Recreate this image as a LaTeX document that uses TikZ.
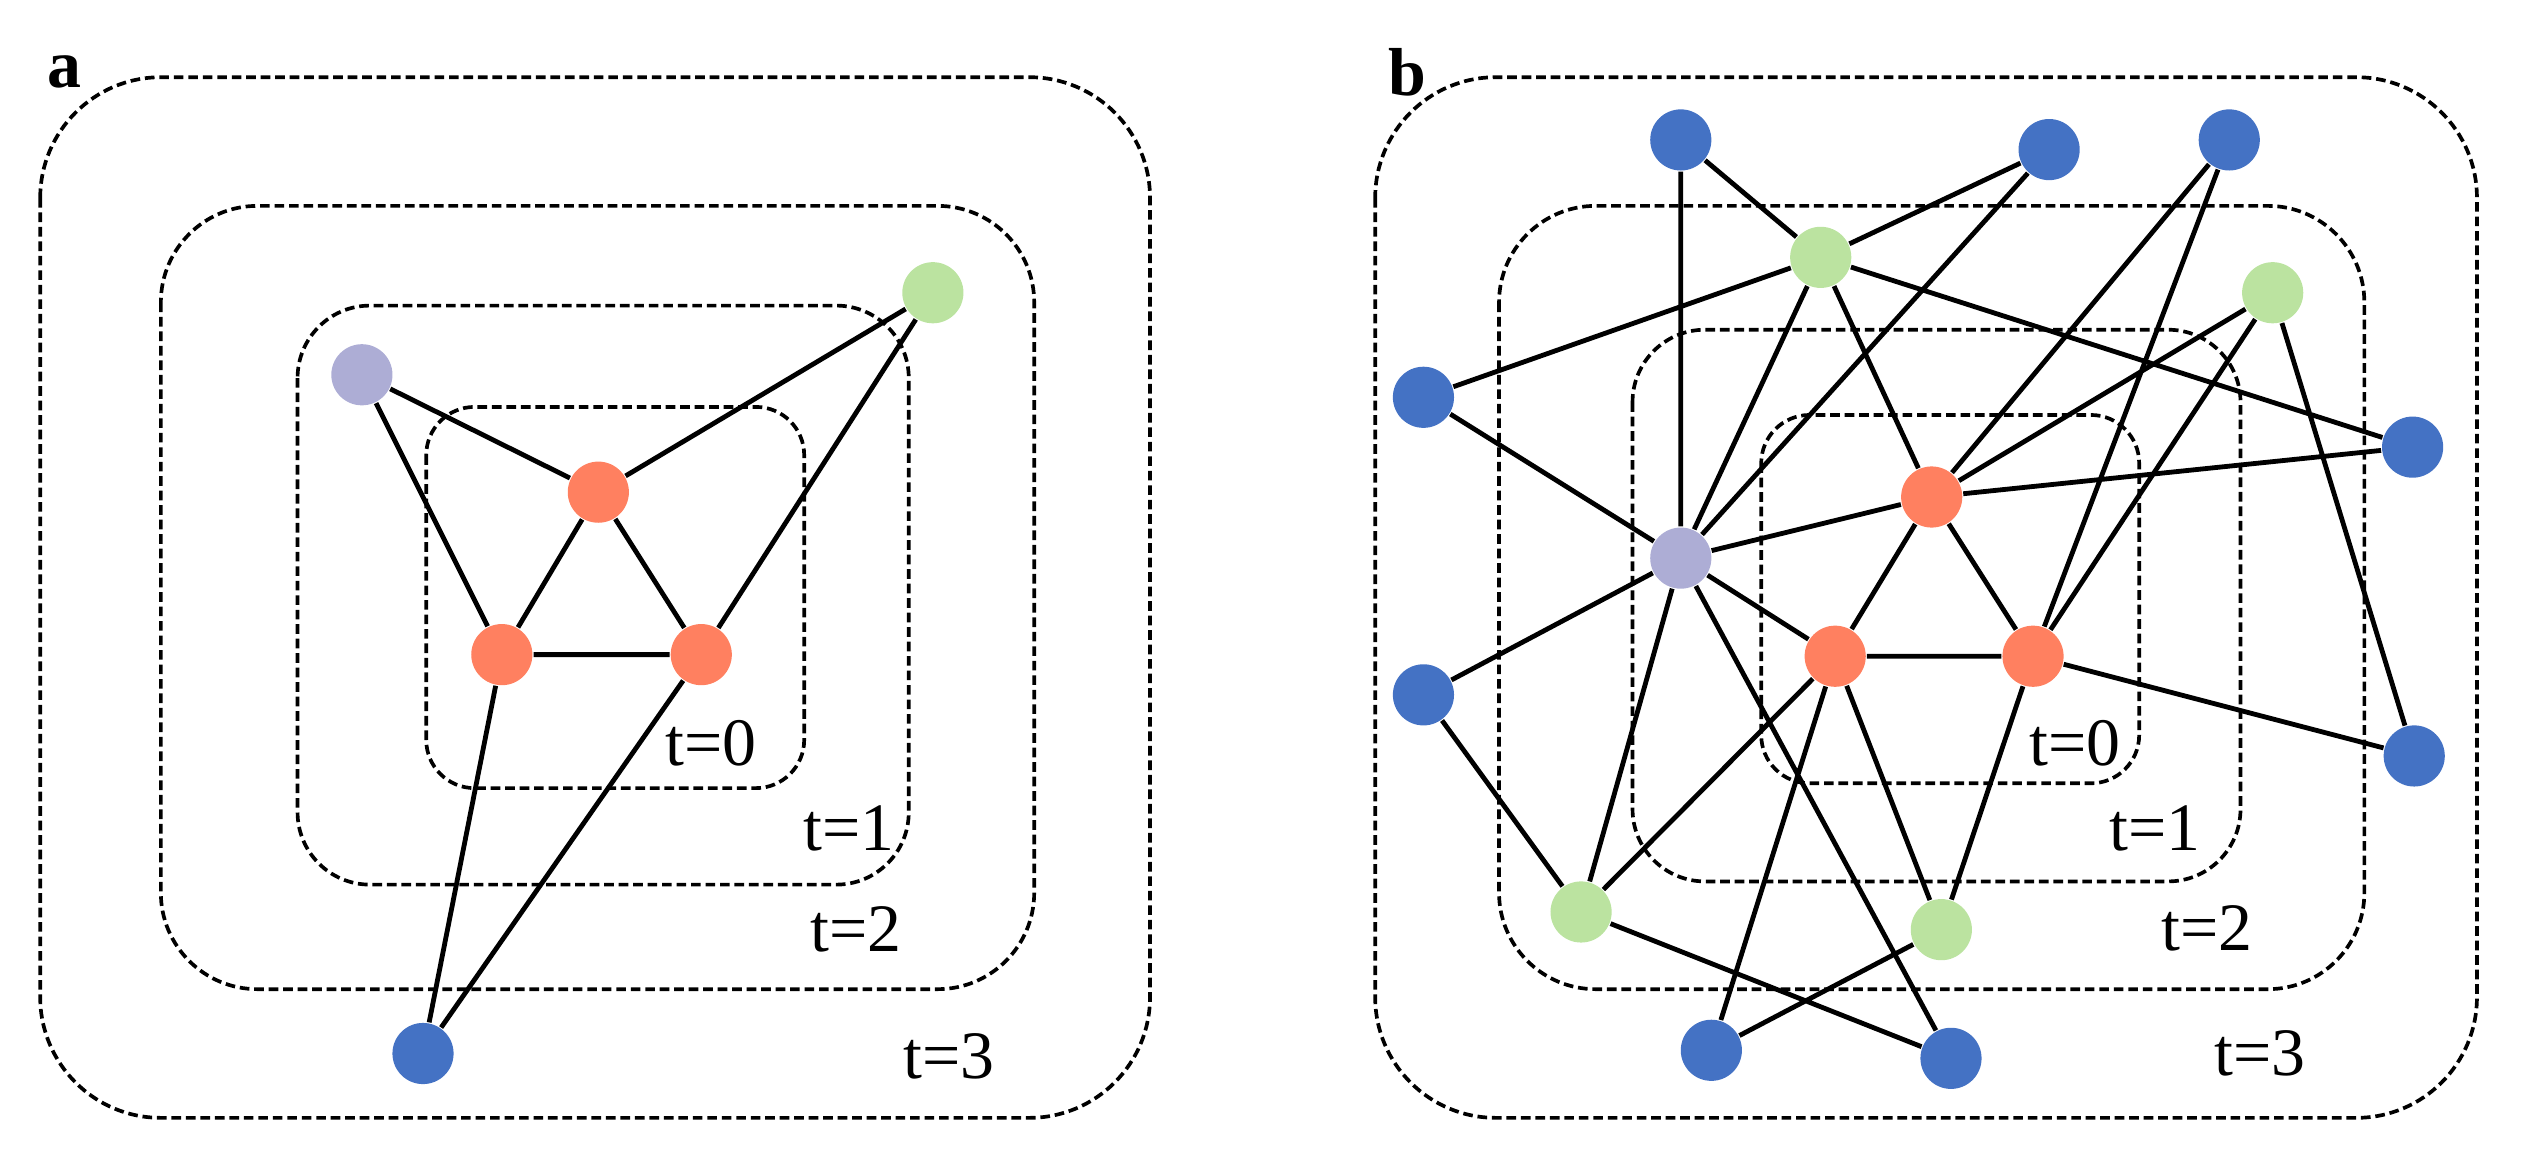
\documentclass[tikz,border=0pt]{standalone}
\usepackage{fontspec}
\setmainfont{Liberation Serif}
\begin{document}
\begin{tikzpicture}[x=0.01cm,y=-0.01cm,
  box/.style={draw, dash pattern=on 0.06cm off 0.03cm, line width=0.65pt},
  nd/.style={circle, minimum size=0.38cm, inner sep=0pt, draw=none},
  bl/.style={nd, fill=cblue}, rd/.style={nd, fill=cred}, gr/.style={nd, fill=cgreen}, pu/.style={nd, fill=cpurple},
  ed/.style={line width=0.85pt},
  lab/.style={font=\fontsize{12}{14}\selectfont, inner sep=0pt},
  ttl/.style={font=\fontsize{12}{14}\selectfont\bfseries, inner sep=0pt}]
\definecolor{cblue}{HTML}{4472C4}
\definecolor{cred}{HTML}{FF8060}
\definecolor{cgreen}{HTML}{BBE3A0}
\definecolor{cpurple}{HTML}{ADADD5}
\useasboundingbox (0,0) rectangle (1568,718);
% panel a
\node[ttl] (ta) at (40,45) {a};
\draw[box, rounded corners=0.75cm] (25,48) rectangle (715,695);
\draw[box, rounded corners=0.6cm] (100,128) rectangle (643,615);
\draw[box, rounded corners=0.45cm] (185,190) rectangle (565,550);
\draw[box, rounded corners=0.3cm] (265,253) rectangle (500,490);
\node[lab] (a0) at (442,462) {t=0};
\node[lab] (a1) at (528,515) {t=1};
\node[lab] (a2) at (532,578) {t=2};
\node[lab] (a3) at (590,657) {t=3};
\node[pu] (aP) at (225,233) {};
\node[gr] (aG) at (580,182) {};
\node[rd] (aT) at (372,306) {};
\node[rd] (aL) at (312,407) {};
\node[rd] (aR) at (436,407) {};
\node[bl] (aB) at (263,655) {};
\draw[ed] (aP)--(aT) (aP)--(aL) (aG)--(aT) (aG)--(aR) (aT)--(aL) (aT)--(aR) (aL)--(aR) (aL)--(aB) (aR)--(aB);
% panel b
\node[ttl] (tb) at (875,45) {b};
\draw[box, rounded corners=0.75cm] (855,48) rectangle (1540,695);
\draw[box, rounded corners=0.6cm] (932,128) rectangle (1470,615);
\draw[box, rounded corners=0.45cm] (1015,205) rectangle (1393,548);
\draw[box, rounded corners=0.3cm] (1095,258) rectangle (1330,487);
\node[lab] (b0) at (1290,462) {t=0};
\node[lab] (b1) at (1340,515) {t=1};
\node[lab] (b2) at (1372,577) {t=2};
\node[lab] (b3) at (1405,655) {t=3};
\node[bl] (bt1) at (1045,87) {};
\node[bl] (bt2) at (1274,93) {};
\node[bl] (bt3) at (1386,87) {};
\node[gr] (gt) at (1132,160) {};
\node[gr] (gR) at (1413,182) {};
\node[bl] (bl1) at (885,247) {};
\node[bl] (br1) at (1500,278) {};
\node[rd] (rt) at (1201,309) {};
\node[pu] (pp) at (1045,347) {};
\node[rd] (rl) at (1141,408) {};
\node[rd] (rr) at (1264,408) {};
\node[bl] (bl2) at (885,432) {};
\node[bl] (br2) at (1501,470) {};
\node[gr] (gbl) at (983,567) {};
\node[gr] (gbr) at (1207,578) {};
\node[bl] (bb1) at (1064,653) {};
\node[bl] (bb2) at (1213,658) {};
\draw[ed] (bt1)--(pp) (bt1)--(gt) (gt)--(br1) (bt2)--(gt) (gt)--(bl1) (bt2)--(pp) (gt)--(pp) (gt)--(rt)
  (bl1)--(pp) (pp)--(rt) (pp)--(rl) (pp)--(bl2) (pp)--(gbl) (pp)--(bb2)
  (rt)--(rl) (rt)--(rr) (rl)--(rr) (rt)--(br1) (bt3)--(rt) (bt3)--(rr)
  (gR)--(rt) (gR)--(rr) (gR)--(br2) (rr)--(br2) (rl)--(gbl) (rl)--(bb1) (rl)--(gbr)
  (rr)--(gbr) (gbr)--(bb1) (bl2)--(gbl) (gbl)--(bb2);
\end{tikzpicture}
\end{document}
